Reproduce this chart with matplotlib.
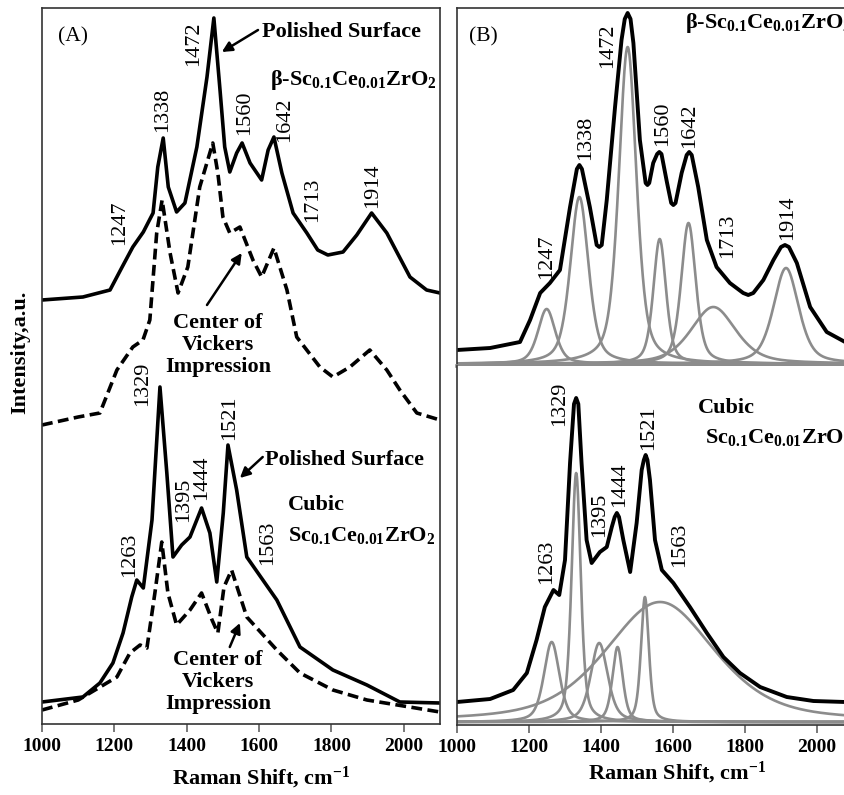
import matplotlib
matplotlib.use("Agg")
import matplotlib.pyplot as plt
import numpy as np

plt.rcParams["font.family"] = ["Liberation Serif", "DejaVu Serif"]
plt.rcParams["mathtext.fontset"] = "custom"
plt.rcParams["mathtext.rm"] = "Liberation Serif:bold"
plt.rcParams["mathtext.it"] = "Liberation Serif:bold"
plt.rcParams["mathtext.bf"] = "Liberation Serif:bold"

# ---- panel A: measured spectra (intensity in a.u.) ----
a_beta_x = [1000, 1113, 1188, 1220, 1251, 1280, 1307, 1320, 1335, 1349, 1372, 1395,
            1428, 1456, 1475, 1492, 1505, 1519, 1538, 1553, 1575, 1607, 1625, 1641,
            1663, 1694, 1732, 1762, 1790, 1832, 1870, 1911, 1953, 2017, 2063, 2100]
a_beta_y = [424, 427, 434, 456, 477, 492, 511, 557, 586, 537, 512, 521,
            577, 647, 706, 634, 577, 552, 571, 581, 561, 544, 574, 587,
            551, 511, 491, 474, 469, 472, 489, 511, 491, 447, 434, 431]

a_beta_vick_x = [1000, 1100, 1160, 1207, 1251, 1279, 1298, 1317, 1332, 1354, 1376,
                 1403, 1436, 1472, 1486, 1500, 1519, 1547, 1583, 1607, 1641, 1677,
                 1704, 1768, 1804, 1851, 1906, 1953, 1989, 2036, 2100]
a_beta_vick_y = [299, 307, 311, 354, 377, 384, 404, 491, 524, 471, 431,
                 457, 537, 581, 551, 507, 491, 497, 464, 447, 476, 434,
                 387, 357, 347, 357, 374, 354, 334, 311, 304]

a_cubic_x = [1000, 1113, 1160, 1196, 1224, 1248, 1262, 1280, 1304, 1326, 1345, 1362,
             1386, 1409, 1441, 1464, 1483, 1501, 1514, 1538, 1566, 1649, 1713, 1804,
             1898, 1989, 2100]
a_cubic_y = [22, 27, 41, 61, 91, 127, 144, 136, 204, 337, 251, 167,
             179, 187, 216, 191, 142, 211, 279, 234, 167, 124, 77, 54,
             39, 22, 21]

a_cubic_vick_x = [1000, 1100, 1207, 1243, 1271, 1290, 1312, 1331, 1348, 1372, 1409,
                  1441, 1470, 1486, 1503, 1524, 1566, 1649, 1713, 1804, 1898, 2100]
a_cubic_vick_y = [14, 24, 47, 71, 79, 76, 131, 182, 131, 99, 114,
                  131, 104, 91, 137, 154, 107, 74, 51, 34, 24, 12]

a_beta_peaks = ["1247", "1338", "1472", "1560", "1642", "1713", "1914"]
a_cubic_peaks = ["1263", "1329", "1395", "1444", "1521", "1563"]

# ---- panel B: smoothed spectra and fitted bands ----
b_beta_x = [1000, 1092, 1175, 1203, 1231, 1258, 1286, 1314, 1333, 1340, 1347, 1369,
            1388, 1395, 1402, 1416, 1439, 1457, 1466, 1474, 1482, 1490, 1508, 1524,
            1529, 1534, 1545, 1556, 1562, 1568, 1583, 1595, 1601, 1607, 1624, 1638,
            1645, 1652, 1670, 1694, 1721, 1758, 1795, 1809, 1823, 1851, 1879, 1900,
            1911, 1922, 1944, 1981, 2027, 2078, 2100]
b_beta_y = [14, 16, 22, 44, 71, 81, 94, 157, 195, 199, 195, 157,
            119, 117, 119, 164, 257, 324, 345, 351, 345, 321, 224, 181,
            179, 181, 201, 210, 212, 210, 182, 161, 159, 161, 191, 209,
            212, 209, 177, 124, 97, 81, 71, 69, 71, 84, 104, 117,
            119, 117, 101, 57, 32, 22, 21]

b_cubic_x = [1000, 1092, 1156, 1194, 1221, 1244, 1268, 1284, 1300, 1314, 1325, 1331,
             1337, 1346, 1360, 1374, 1397, 1416, 1430, 1438, 1444, 1450, 1462, 1481,
             1499, 1513, 1519, 1524, 1529, 1536, 1550, 1569, 1601, 1647, 1694, 1740,
             1786, 1842, 1916, 1990, 2078, 2100]
b_cubic_y = [20, 23, 32, 49, 82, 115, 132, 127, 162, 259, 318, 324,
             318, 259, 182, 159, 170, 175, 195, 205, 209, 205, 182, 150,
             199, 252, 262, 267, 262, 242, 182, 152, 139, 115, 89, 65,
             49, 35, 25, 21, 20, 20]

b_beta_centers = [1249, 1340, 1474, 1563, 1643, 1712, 1914]
b_beta_heights = [55, 167, 317, 125, 141, 57, 96]
b_beta_fwhm = [57, 60, 58, 42, 48, 148, 83]

b_cubic_centers = [1263, 1331, 1395, 1446, 1522, 1564]
b_cubic_heights = [80, 249, 79, 75, 125, 120]
b_cubic_fwhm = [51, 30, 56, 34, 26, 360]
lorentz_fraction = 0.5


def band(x, center, height, fwhm, eta=lorentz_fraction):
    d = (x - center) / (fwhm / 2.0)
    lor = 1.0 / (1.0 + d ** 2)
    gau = np.exp(-np.log(2) * d ** 2)
    return height * (eta * lor + (1 - eta) * gau)


W, H = 845, 795
fig = plt.figure(figsize=(W / 100, H / 100), dpi=100)


def frac(left, top, right, bottom):
    return [left / W, 1 - bottom / H, (right - left) / W, (bottom - top) / H]


ax_a = fig.add_axes(frac(42, 8, 440, 724))
ax_bt = fig.add_axes(frac(457, 8, 853, 366))
ax_bb = fig.add_axes(frac(457, 366, 853, 725))

spine_col = "#333333"
solid_kw = dict(color="black", lw=2.6, solid_joinstyle="round")
dash_kw = dict(color="black", lw=2.6, dashes=(3.0, 1.5), dash_capstyle="butt")
gray = "#8c8c8c"
num_kw = dict(rotation=90, ha="center", va="center", fontsize=16)
bold16 = dict(fontsize=16, fontweight="bold")
arrow_kw = dict(arrowstyle="-|>", color="black", lw=1.8, mutation_scale=15,
                shrinkA=0, shrinkB=0)

# ---- panel A ----
ax_a.plot(a_beta_x, a_beta_y, **solid_kw)
ax_a.plot(a_beta_vick_x, a_beta_vick_y, **dash_kw)
ax_a.plot(a_cubic_x, a_cubic_y, **solid_kw)
ax_a.plot(a_cubic_vick_x, a_cubic_vick_y, **dash_kw)
ax_a.set_xlim(1000, 2100)
ax_a.set_ylim(0, 716)

a_beta_pos = [(1215, 501), (1334, 614), (1420, 680), (1561, 611), (1671, 604),
              (1749, 524), (1914, 538)]
for lab, (x, y) in zip(a_beta_peaks, a_beta_pos):
    ax_a.text(x, y, lab, **num_kw)
a_cubic_pos = [(1243, 169), (1279, 340), (1392, 224), (1442, 246), (1519, 306),
               (1624, 181)]
for lab, (x, y) in zip(a_cubic_peaks, a_cubic_pos):
    ax_a.text(x, y, lab, **num_kw)

ax_a.text(1086, 687, "(A)", fontsize=15.5, ha="center", va="center")
ax_a.text(1608, 692, "Polished Surface", ha="left", va="center", **bold16)
ax_a.annotate("", xy=(1497, 672), xytext=(1597, 694), arrowprops=arrow_kw)
ax_a.text(1630, 644, r"β-Sc$_{0.1}$Ce$_{0.01}$ZrO$_2$", ha="left", va="center", **bold16)
ax_a.text(1486, 379, "Center of\nVickers\nImpression", ha="center", va="center",
          linespacing=1.15, **bold16)
ax_a.annotate("", xy=(1552, 471), xytext=(1456, 419), arrowprops=arrow_kw)
ax_a.text(1616, 264, "Polished Surface", ha="left", va="center", **bold16)
ax_a.annotate("", xy=(1547, 246), xytext=(1610, 267), arrowprops=arrow_kw)
ax_a.text(1680, 219, "Cubic", ha="left", va="center", **bold16)
ax_a.text(1680, 189, r"Sc$_{0.1}$Ce$_{0.01}$ZrO$_2$", ha="left", va="center", **bold16)
ax_a.text(1486, 42, "Center of\nVickers\nImpression", ha="center", va="center",
          linespacing=1.15, **bold16)
ax_a.annotate("", xy=(1547, 101), xytext=(1519, 77), arrowprops=arrow_kw)

# ---- panel B ----
xs = np.linspace(1000, 2100, 1101)
for c, h, w in zip(b_beta_centers, b_beta_heights, b_beta_fwhm):
    ax_bt.plot(xs, band(xs, c, h, w), color=gray, lw=1.9)
ax_bt.plot(b_beta_x, b_beta_y, color="black", lw=2.8, solid_joinstyle="round")
ax_bt.set_xlim(1000, 2100)
ax_bt.set_ylim(-2, 356)

for c, h, w in zip(b_cubic_centers, b_cubic_heights, b_cubic_fwhm):
    ax_bb.plot(xs, band(xs, c, h, w), color=gray, lw=1.9)
ax_bb.plot(b_cubic_x, b_cubic_y, color="black", lw=2.8, solid_joinstyle="round")
ax_bb.set_xlim(1000, 2100)
ax_bb.set_ylim(-3, 356)

b_beta_pos = [(1250, 107), (1358, 226), (1419, 318), (1572, 240), (1647, 238),
              (1753, 128), (1919, 146)]
for lab, (x, y) in zip(a_beta_peaks, b_beta_pos):
    ax_bt.text(x, y, lab, **num_kw)
b_cubic_pos = [(1250, 160), (1286, 318), (1397, 207), (1453, 237), (1531, 294),
               (1617, 177)]
for lab, (x, y) in zip(a_cubic_peaks, b_cubic_pos):
    ax_bb.text(x, y, lab, **num_kw)

ax_bt.text(1072, 327, "(B)", fontsize=15.5, ha="center", va="center")
ax_bt.text(1633, 341, r"β-Sc$_{0.1}$Ce$_{0.01}$ZrO$_2$", ha="left", va="center", **bold16)
ax_bb.text(1669, 314, "Cubic", ha="left", va="center", **bold16)
ax_bb.text(1689, 285, r"Sc$_{0.1}$Ce$_{0.01}$ZrO$_2$", ha="left", va="center", **bold16)

# ---- axes styling ----
for ax in (ax_a, ax_bt, ax_bb):
    for s in ax.spines.values():
        s.set_color(spine_col)
        s.set_linewidth(1.2)
    ax.set_yticks([])
ax_bt.spines["bottom"].set_color(gray)
ax_bt.spines["bottom"].set_linewidth(2.6)
ax_bb.spines["top"].set_visible(False)
ax_bt.tick_params(bottom=False, labelbottom=False)

for ax in (ax_a, ax_bb):
    ax.set_xticks(range(1000, 2001, 200))
    ax.tick_params(axis="x", direction="out", length=6, width=1.1, color="#555555",
                   labelsize=14, pad=4)
    for lbl in ax.get_xticklabels():
        lbl.set_fontweight("bold")

fig.text(261 / W, 1 - 778 / H, r"Raman Shift, cm$^{-1}$", ha="center", va="center", **bold16)
fig.text(677 / W, 1 - 773 / H, r"Raman Shift, cm$^{-1}$", ha="center", va="center", **bold16)
fig.text(20 / W, 1 - 352 / H, "Intensity,a.u.", rotation=90, ha="center", va="center",
         fontsize=16, fontweight="bold")

fig.savefig("out.png", dpi=100)
